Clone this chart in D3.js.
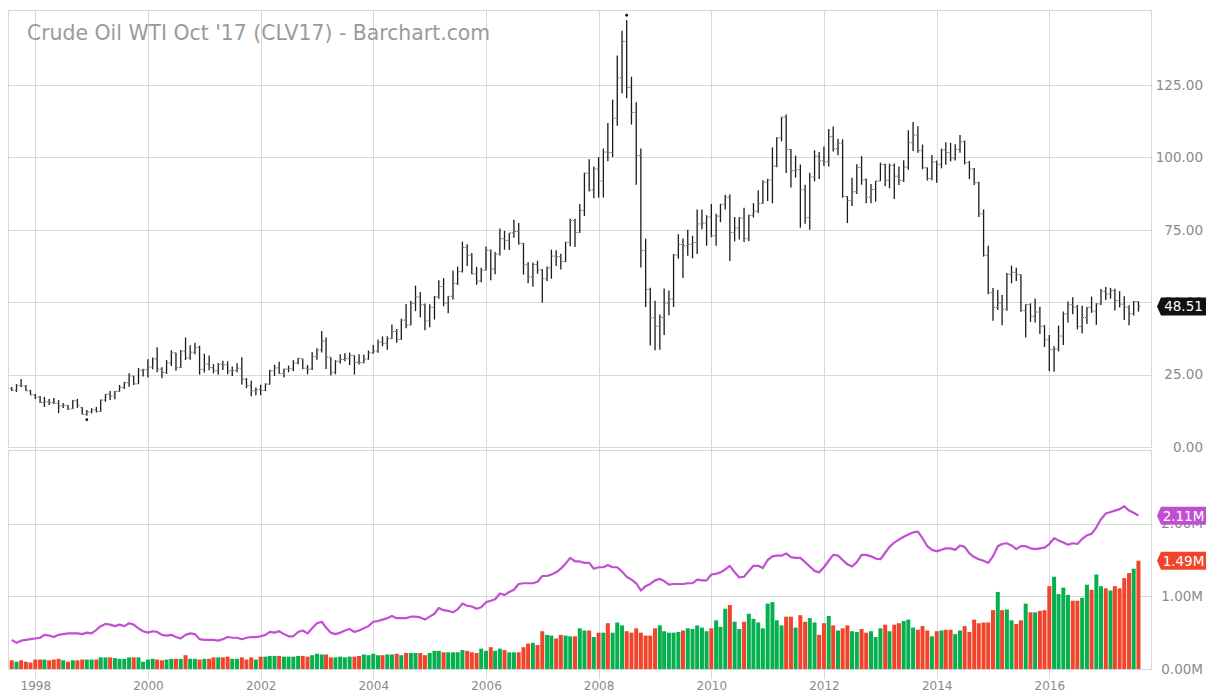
<!DOCTYPE html>
<html>
<head>
<meta charset="utf-8">
<script src="https://cdn.jsdelivr.net/npm/d3@7"></script>
<style>
  body { margin: 0; background: #fff; }
  svg { display: block; font-family: "DejaVu Sans", sans-serif; }
</style>
</head>
<body>
<svg id="chart" width="1212" height="690"></svg>
<script>
// monthly bars, Aug 1997 .. Aug 2017
const firstMonth = new Date(1997, 7, 1);
const lastMonth = new Date(2017, 7, 1);

const opens = [
  20.2, 19.6, 21.2, 21.0, 19.4,
  18.0, 17.2, 15.4, 15.6, 15.3, 15.1, 14.2, 14.4, 13.2, 16.0, 13.6, 11.3,
  12.1, 12.8, 12.3, 16.2, 18.2, 17.6, 19.2, 20.6, 22.2, 24.5, 21.8, 26.5,
  26.7, 27.6, 30.4, 26.9, 25.7, 29.0, 32.5, 27.4, 33.1, 30.8, 32.7, 34.4,
  26.8, 28.7, 27.4, 26.3, 28.5, 28.4, 26.3, 26.4, 27.2, 23.4, 21.2, 19.4,
  19.8, 19.5, 21.7, 26.3, 27.3, 25.3, 26.9, 27.0, 29.0, 30.5, 27.2, 26.9,
  31.2, 33.5, 36.6, 31.0, 25.8, 29.6, 30.2, 30.5, 31.6, 29.2, 29.1, 30.4,
  32.5, 33.1, 36.2, 35.8, 37.4, 39.9, 37.1, 43.8, 42.1, 49.6, 51.8, 49.1,
  43.5, 48.2, 51.8, 55.4, 49.7, 52.0, 56.5, 60.6, 68.9, 66.2, 59.8, 57.3,
  61.0, 67.9, 61.4, 66.6, 71.9, 71.3, 73.9, 74.4, 70.3, 62.9, 58.7, 63.0,
  61.1, 58.1, 61.8, 65.9, 65.7, 64.0, 70.7, 78.2, 74.0, 81.7, 94.5, 88.7,
  96.0, 91.8, 101.8, 101.6, 113.5, 127.4, 140.0, 124.1, 115.5, 100.6, 67.8, 54.4,
  44.6, 41.7, 44.8, 49.7, 51.1, 66.3, 69.9, 69.5, 70.0, 70.6, 77.0, 77.3,
  79.4, 72.9, 79.7, 83.8, 86.2, 74.0, 75.6, 79.0, 71.9, 80.0, 81.4, 84.1,
  91.4, 92.2, 97.0, 106.7, 113.9, 102.7, 95.4, 95.7, 88.8, 79.2, 93.2, 100.4,
  98.8, 98.5, 107.1, 103.0, 104.9, 86.5, 85.0, 88.1, 96.5, 92.2, 86.2, 88.9,
  91.8, 97.5, 92.1, 97.2, 93.5, 92.0, 96.6, 105.0, 107.7, 102.3, 96.4, 92.7,
  98.4, 97.5, 102.6, 101.6, 99.7, 102.7, 105.4, 98.2, 96.0, 91.2, 80.5, 66.2,
  53.3, 48.2, 49.8, 47.6, 59.6, 60.3, 59.5, 47.1, 49.2, 45.1, 46.6, 41.7,
  37.0, 33.6, 33.8, 38.3, 45.9, 49.1, 48.3, 41.6, 44.7, 48.2, 46.9, 49.4,
  53.7, 52.8, 54.0, 50.6, 49.3, 48.3, 46.0, 50.2
];
const highs = [
  20.7, 21.7, 23.5, 21.4, 19.7,
  18.3, 17.6, 17.3, 16.6, 16.9, 16.2, 15.2, 14.5, 16.2, 16.6, 13.8, 12.8,
  13.4, 13.8, 16.4, 18.3, 19.3, 19.3, 21.4, 22.5, 25.5, 24.6, 27.3, 27.0,
  30.3, 30.9, 34.4, 27.5, 30.0, 33.4, 32.5, 33.5, 37.8, 35.1, 36.0, 35.0,
  32.2, 31.6, 28.6, 29.0, 29.8, 29.6, 27.8, 28.9, 31.0, 23.8, 22.9, 20.5,
  21.5, 22.0, 26.7, 28.4, 29.4, 27.0, 28.1, 30.0, 30.8, 30.5, 28.3, 32.7,
  34.1, 40.0, 37.8, 31.0, 30.0, 32.0, 32.4, 32.6, 31.6, 32.0, 31.9, 33.3,
  35.2, 37.0, 38.2, 38.2, 42.3, 40.7, 44.3, 49.4, 50.5, 55.7, 53.5, 49.5,
  49.3, 52.1, 57.6, 58.3, 52.1, 60.9, 62.3, 70.9, 70.0, 67.0, 62.2, 61.9,
  69.2, 68.2, 67.3, 75.4, 74.6, 73.9, 78.4, 77.3, 70.4, 63.8, 63.7, 64.3,
  61.4, 62.3, 68.1, 67.9, 66.7, 70.8, 78.8, 78.8, 83.9, 94.7, 99.3, 96.8,
  100.1, 103.0, 111.8, 119.9, 135.1, 143.7, 147.3, 127.8, 119.0, 103.0, 71.9, 55.0,
  50.5, 45.7, 54.7, 54.0, 66.6, 73.4, 72.0, 75.0, 72.9, 82.0, 82.0, 80.0,
  83.9, 80.5, 83.9, 87.1, 87.2, 79.4, 79.4, 82.6, 80.2, 84.2, 88.6, 92.1,
  92.6, 103.4, 106.9, 113.9, 114.8, 102.9, 100.6, 97.5, 90.5, 94.7, 102.4, 101.8,
  103.7, 109.8, 110.6, 106.4, 106.2, 86.6, 92.9, 97.6, 100.4, 92.7, 90.8, 91.9,
  98.2, 97.8, 97.8, 97.9, 96.8, 99.0, 109.3, 112.2, 110.7, 104.4, 96.5, 100.8,
  98.9, 103.0, 105.2, 105.0, 104.5, 107.7, 105.8, 98.7, 96.3, 91.6, 82.0, 69.5,
  54.9, 54.2, 52.5, 60.1, 62.6, 61.9, 59.6, 49.3, 49.6, 51.3, 48.4, 42.1,
  38.7, 34.8, 41.9, 46.8, 50.2, 51.7, 49.0, 48.8, 48.3, 51.9, 49.6, 54.5,
  55.2, 54.9, 54.6, 53.8, 52.0, 48.9, 50.4, 50.2
];
const lows = [
  19.3, 19.0, 20.6, 19.3, 17.9,
  16.6, 15.2, 13.8, 14.5, 14.8, 11.7, 13.5, 12.8, 13.1, 13.5, 11.2, 10.8,
  11.6, 11.9, 12.2, 15.6, 16.2, 16.5, 19.1, 20.0, 20.8, 21.4, 21.7, 24.3,
  24.0, 26.8, 25.8, 23.7, 25.2, 28.0, 26.3, 27.3, 30.0, 30.1, 32.0, 25.0,
  25.7, 26.5, 25.4, 24.9, 26.6, 25.1, 24.5, 25.8, 21.6, 20.3, 17.5, 17.9,
  17.9, 19.3, 21.5, 24.5, 25.2, 24.0, 25.8, 26.2, 28.6, 26.8, 25.1, 26.6,
  30.1, 32.6, 26.9, 24.7, 25.1, 28.8, 29.6, 28.3, 25.0, 28.5, 28.9, 30.1,
  32.2, 32.5, 34.8, 33.6, 37.4, 36.0, 37.0, 41.0, 42.0, 46.9, 44.7, 40.3,
  41.3, 44.0, 51.2, 48.6, 46.2, 50.9, 55.9, 60.2, 62.5, 59.6, 56.0, 56.9,
  61.0, 57.6, 59.6, 66.1, 68.1, 68.0, 72.2, 69.8, 59.5, 56.5, 55.3, 59.8,
  49.9, 57.3, 58.1, 62.5, 61.3, 63.8, 69.3, 69.0, 73.9, 79.7, 88.2, 85.9,
  86.1, 86.1, 98.6, 100.1, 110.9, 122.0, 120.4, 111.3, 90.5, 62.0, 48.3, 35.0,
  33.4, 33.6, 38.7, 45.5, 48.3, 65.0, 58.3, 66.0, 65.1, 66.6, 75.2, 69.5,
  72.4, 69.5, 77.6, 82.0, 64.2, 71.0, 71.6, 70.8, 71.0, 79.2, 80.8, 84.0,
  84.9, 84.1, 96.6, 105.5, 94.6, 89.6, 93.0, 75.7, 77.1, 75.0, 91.7, 92.5,
  97.0, 96.8, 102.0, 100.7, 86.0, 77.3, 83.2, 87.3, 90.5, 84.1, 84.1, 84.7,
  91.8, 90.0, 89.3, 85.6, 90.4, 91.5, 95.7, 102.2, 101.6, 95.9, 92.0, 92.1,
  91.2, 96.2, 97.4, 98.6, 98.9, 101.6, 97.5, 92.5, 90.4, 79.4, 65.7, 52.7,
  43.6, 47.3, 42.0, 47.0, 56.5, 57.3, 46.7, 37.8, 43.2, 43.0, 39.0, 34.5,
  26.2, 26.0, 33.0, 35.2, 43.0, 45.8, 40.6, 39.2, 42.5, 46.3, 42.2, 49.0,
  50.7, 51.2, 47.1, 48.2, 43.8, 42.0, 45.4, 46.7
];
const closes = [
  19.6, 21.2, 21.1, 19.4, 18.0,
  17.2, 15.4, 15.6, 15.3, 15.2, 14.2, 14.4, 13.0, 16.0, 14.4, 11.3, 12.1,
  12.8, 12.3, 16.2, 18.2, 17.6, 19.2, 20.6, 22.2, 24.5, 21.8, 26.5, 26.7,
  27.6, 30.4, 26.9, 25.7, 29.0, 32.5, 27.4, 33.1, 30.8, 32.7, 34.4, 26.8,
  28.7, 27.4, 26.3, 28.5, 28.4, 26.3, 26.4, 27.2, 23.4, 21.2, 19.4, 19.8,
  19.5, 21.7, 26.3, 27.3, 25.3, 26.9, 27.0, 29.0, 30.5, 27.2, 26.9, 31.2,
  33.5, 36.6, 31.0, 25.8, 29.6, 30.2, 30.5, 31.6, 29.2, 29.1, 30.4, 32.5,
  33.1, 36.2, 35.8, 37.4, 39.9, 37.1, 43.8, 42.1, 49.6, 51.8, 49.1, 43.5,
  48.2, 51.8, 55.4, 49.7, 52.0, 56.5, 60.6, 68.9, 66.2, 59.8, 57.3, 61.0,
  67.9, 61.4, 66.6, 71.9, 71.3, 73.9, 74.4, 70.3, 62.9, 58.7, 63.0, 61.1,
  58.1, 61.8, 65.9, 65.7, 64.0, 70.7, 78.2, 74.0, 81.7, 94.5, 88.7, 96.0,
  91.8, 101.8, 101.6, 113.5, 127.4, 140.0, 124.1, 115.5, 100.6, 67.8, 54.4, 44.6,
  41.7, 44.8, 49.7, 51.1, 66.3, 69.9, 69.5, 70.0, 70.6, 77.0, 77.3, 79.4,
  72.9, 79.7, 83.8, 86.2, 74.0, 75.6, 79.0, 71.9, 80.0, 81.4, 84.1, 91.4,
  92.2, 97.0, 106.7, 113.9, 102.7, 95.4, 95.7, 88.8, 79.2, 93.2, 100.4, 98.8,
  98.5, 107.1, 103.0, 104.9, 86.5, 85.0, 88.1, 96.5, 92.2, 86.2, 88.9, 91.8,
  97.5, 92.1, 97.2, 93.5, 92.0, 96.6, 105.0, 107.7, 102.3, 96.4, 92.7, 98.4,
  97.5, 102.6, 101.6, 99.7, 102.7, 105.4, 98.2, 96.0, 91.2, 80.5, 66.2, 53.3,
  48.2, 49.8, 47.6, 59.6, 60.3, 59.5, 47.1, 49.2, 45.1, 46.6, 41.7, 37.0,
  33.6, 33.8, 38.3, 45.9, 49.1, 48.3, 41.6, 44.7, 48.2, 46.9, 49.4, 53.7,
  52.8, 54.0, 50.6, 49.3, 48.3, 46.0, 50.2, 48.51
];

// volume and open interest, millions of contracts
const volumes = [
  0.12, 0.10, 0.12, 0.10, 0.09,
  0.13, 0.13, 0.13, 0.12, 0.13, 0.14, 0.12, 0.10, 0.12, 0.12, 0.13, 0.13,
  0.13, 0.13, 0.16, 0.16, 0.16, 0.15, 0.14, 0.14, 0.16, 0.16, 0.16, 0.10,
  0.13, 0.14, 0.13, 0.12, 0.13, 0.14, 0.14, 0.14, 0.19, 0.14, 0.14, 0.13,
  0.14, 0.14, 0.16, 0.16, 0.16, 0.17, 0.14, 0.14, 0.16, 0.13, 0.16, 0.13,
  0.17, 0.17, 0.18, 0.18, 0.18, 0.17, 0.17, 0.17, 0.18, 0.18, 0.17, 0.19,
  0.21, 0.20, 0.20, 0.16, 0.16, 0.17, 0.16, 0.17, 0.17, 0.18, 0.20, 0.19,
  0.21, 0.19, 0.19, 0.20, 0.20, 0.21, 0.19, 0.22, 0.22, 0.22, 0.22, 0.19,
  0.22, 0.25, 0.25, 0.23, 0.23, 0.23, 0.23, 0.26, 0.25, 0.23, 0.22, 0.28,
  0.25, 0.30, 0.25, 0.28, 0.26, 0.23, 0.23, 0.23, 0.30, 0.35, 0.36, 0.33,
  0.52, 0.47, 0.46, 0.42, 0.47, 0.46, 0.45, 0.45, 0.56, 0.53, 0.53, 0.44,
  0.50, 0.50, 0.63, 0.50, 0.64, 0.60, 0.52, 0.50, 0.56, 0.50, 0.46, 0.46,
  0.56, 0.60, 0.52, 0.50, 0.50, 0.51, 0.53, 0.56, 0.55, 0.60, 0.57, 0.52,
  0.56, 0.67, 0.58, 0.83, 0.88, 0.65, 0.55, 0.65, 0.76, 0.69, 0.64, 0.56,
  0.90, 0.92, 0.67, 0.60, 0.72, 0.72, 0.57, 0.74, 0.65, 0.70, 0.64, 0.47,
  0.63, 0.73, 0.60, 0.53, 0.56, 0.60, 0.52, 0.51, 0.55, 0.50, 0.52, 0.44,
  0.56, 0.61, 0.52, 0.61, 0.63, 0.66, 0.68, 0.57, 0.54, 0.59, 0.53, 0.45,
  0.52, 0.53, 0.54, 0.54, 0.48, 0.53, 0.59, 0.51, 0.68, 0.63, 0.64, 0.64,
  0.81, 1.06, 0.81, 0.82, 0.67, 0.62, 0.67, 0.90, 0.78, 0.78, 0.80, 0.81,
  1.14, 1.27, 1.03, 1.12, 1.02, 0.94, 0.94, 0.98, 1.16, 1.09, 1.30, 1.14,
  1.11, 1.08, 1.14, 1.11, 1.25, 1.32, 1.38, 1.49
];
const openInterest = [
  0.40, 0.36, 0.39, 0.40, 0.41,
  0.42, 0.43, 0.47, 0.46, 0.44, 0.47, 0.48, 0.49, 0.49, 0.49, 0.48, 0.50,
  0.49, 0.54, 0.59, 0.62, 0.61, 0.59, 0.61, 0.59, 0.63, 0.61, 0.56, 0.52,
  0.50, 0.52, 0.51, 0.47, 0.46, 0.47, 0.44, 0.42, 0.47, 0.49, 0.48, 0.41,
  0.40, 0.40, 0.40, 0.39, 0.41, 0.44, 0.43, 0.43, 0.41, 0.43, 0.44, 0.44,
  0.45, 0.47, 0.51, 0.50, 0.52, 0.48, 0.45, 0.45, 0.51, 0.53, 0.49, 0.56,
  0.63, 0.65, 0.57, 0.50, 0.48, 0.50, 0.53, 0.55, 0.51, 0.53, 0.56, 0.59,
  0.65, 0.66, 0.68, 0.70, 0.73, 0.70, 0.70, 0.70, 0.72, 0.72, 0.71, 0.68,
  0.72, 0.76, 0.84, 0.81, 0.80, 0.78, 0.82, 0.90, 0.87, 0.86, 0.83, 0.85,
  0.92, 0.94, 0.96, 1.04, 1.02, 1.06, 1.09, 1.17, 1.18, 1.18, 1.18, 1.20,
  1.28, 1.28, 1.30, 1.33, 1.38, 1.45, 1.53, 1.48, 1.48, 1.46, 1.46, 1.38,
  1.40, 1.40, 1.43, 1.40, 1.40, 1.34, 1.27, 1.23, 1.18, 1.08, 1.14, 1.17,
  1.22, 1.24, 1.21, 1.16, 1.17, 1.17, 1.17, 1.18, 1.18, 1.23, 1.22, 1.22,
  1.30, 1.31, 1.33, 1.37, 1.42, 1.33, 1.26, 1.27, 1.35, 1.42, 1.42, 1.39,
  1.50, 1.55, 1.56, 1.56, 1.59, 1.54, 1.53, 1.53, 1.47, 1.41, 1.35, 1.33,
  1.40, 1.49, 1.57, 1.56, 1.50, 1.44, 1.41, 1.47, 1.57, 1.57, 1.55, 1.52,
  1.51, 1.60, 1.68, 1.74, 1.78, 1.82, 1.85, 1.88, 1.89, 1.80, 1.69, 1.64,
  1.62, 1.64, 1.66, 1.66, 1.64, 1.70, 1.68, 1.59, 1.54, 1.51, 1.49, 1.46,
  1.55, 1.69, 1.72, 1.73, 1.70, 1.65, 1.69, 1.69, 1.66, 1.65, 1.66, 1.67,
  1.72, 1.80, 1.77, 1.74, 1.71, 1.73, 1.72, 1.79, 1.84, 1.86, 1.95, 2.06,
  2.14, 2.16, 2.18, 2.20, 2.24, 2.18, 2.15, 2.11
];

const priceTicks = [0, 25, 50, 75, 100, 125];
const volTicks = [0, 1, 2];
const titleText = "Crude Oil WTI Oct '17 (CLV17) - Barchart.com";

const GRID = "#d9d9d9", LABEL = "#8a8a8a";
const UP = "#07b04e", DOWN = "#f0452a", OI_COLOR = "#c24fd3";

const months = d3.timeMonth.range(firstMonth, d3.timeMonth.offset(lastMonth, 1));
const bars = months.map((m, i) => ({
  date: m, open: opens[i], high: highs[i], low: lows[i], close: closes[i],
  vol: volumes[i], oi: openInterest[i],
  up: i === 0 ? closes[i] >= opens[i] : closes[i] >= closes[i - 1]
}));

const svg = d3.select("#chart");
const left = 9, right = 1152;

const x = d3.scaleTime()
  .domain([new Date(1998, 0, 1), new Date(2016, 0, 1)])
  .range([35.3, 1049.3]);
const yPrice = d3.scaleLinear().domain([0, 150.5]).range([447, 11]);
const yVol = d3.scaleLinear().domain([0, 3]).range([669, 451]);

// grid
const grid = svg.append("g").attr("stroke", GRID).attr("stroke-width", 1);
const years = d3.timeYear.every(2).range(new Date(1998, 0, 1), new Date(2017, 0, 1));
grid.selectAll(".vg").data(years).join("line")
  .attr("x1", d => Math.round(x(d)) + 0.5).attr("x2", d => Math.round(x(d)) + 0.5)
  .attr("y1", 11).attr("y2", 679);
grid.selectAll(".pg").data(priceTicks.slice(1)).join("line")
  .attr("x1", left).attr("x2", right)
  .attr("y1", d => Math.round(yPrice(d)) + 0.5).attr("y2", d => Math.round(yPrice(d)) + 0.5);
grid.selectAll(".vgl").data(volTicks.slice(1)).join("line")
  .attr("x1", left).attr("x2", right)
  .attr("y1", d => Math.round(yVol(d)) + 0.5).attr("y2", d => Math.round(yVol(d)) + 0.5);

// panel frames
const frame = svg.append("g").attr("stroke", GRID).attr("fill", "none");
frame.append("rect").attr("x", left - 0.5).attr("y", 10.5).attr("width", right - left).attr("height", 437);
frame.append("rect").attr("x", left - 0.5).attr("y", 450.5).attr("width", right - left).attr("height", 219);

// title
svg.append("text")
  .attr("x", 27).attr("y", 40)
  .attr("font-size", 20.4).attr("fill", "#9a9a9a")
  .text(titleText);

// volume bars
svg.append("g").selectAll("rect").data(bars).join("rect")
  .attr("x", d => x(d.date) - 2)
  .attr("width", 4)
  .attr("y", d => yVol(d.vol))
  .attr("height", d => yVol(0) - yVol(d.vol))
  .attr("fill", d => d.up ? UP : DOWN);

// open interest line
svg.append("path")
  .datum(bars)
  .attr("fill", "none")
  .attr("stroke", OI_COLOR)
  .attr("stroke-width", 2.2)
  .attr("stroke-linejoin", "round")
  .attr("d", d3.line().x(d => x(d.date)).y(d => yVol(d.oi)));

// OHLC bars
const ohlc = svg.append("g").attr("stroke", "#1a1a1a").attr("stroke-width", 1.3);
ohlc.selectAll(".hl").data(bars).join("line")
  .attr("x1", d => x(d.date)).attr("x2", d => x(d.date))
  .attr("y1", d => yPrice(d.high)).attr("y2", d => yPrice(d.low));
ohlc.selectAll(".o").data(bars).join("line")
  .attr("stroke-width", 1).attr("stroke", "#777")
  .attr("x1", d => x(d.date) - 2).attr("x2", d => x(d.date))
  .attr("y1", d => yPrice(d.open)).attr("y2", d => yPrice(d.open));
ohlc.selectAll(".c").data(bars).join("line")
  .attr("stroke-width", 1).attr("stroke", "#777")
  .attr("x1", d => x(d.date)).attr("x2", d => x(d.date) + 2)
  .attr("y1", d => yPrice(d.close)).attr("y2", d => yPrice(d.close));

// high / low markers
const highBar = bars.reduce((a, b) => b.high > a.high ? b : a);
const lowBar = bars.reduce((a, b) => b.low < a.low ? b : a);
svg.append("circle").attr("cx", x(highBar.date)).attr("cy", yPrice(highBar.high) - 5).attr("r", 1.4).attr("fill", "#111");
svg.append("circle").attr("cx", x(lowBar.date)).attr("cy", yPrice(lowBar.low) + 4).attr("r", 1.4).attr("fill", "#111");

// axes
const styleAxis = g => {
  g.select(".domain").remove();
  g.selectAll("text").attr("fill", LABEL).attr("font-family", "DejaVu Sans");
};
svg.append("g")
  .attr("transform", "translate(1203,0)")
  .call(d3.axisLeft(yPrice).tickValues(priceTicks).tickSize(0).tickPadding(0).tickFormat(d3.format(".2f")))
  .call(styleAxis)
  .selectAll("text").attr("font-size", 13.5);
svg.append("g")
  .attr("transform", "translate(1203,0)")
  .call(d3.axisLeft(yVol).tickValues(volTicks).tickSize(0).tickPadding(0).tickFormat(d => d3.format(".2f")(d) + "M"))
  .call(styleAxis)
  .selectAll("text").attr("font-size", 13.5);
svg.append("g")
  .attr("transform", "translate(0,681)")
  .call(d3.axisBottom(x).ticks(d3.timeYear.every(2)).tickSize(0).tickPadding(0).tickFormat(d3.timeFormat("%Y")))
  .call(styleAxis)
  .selectAll("text").attr("font-size", 12);

// last-value tags
const lastBar = bars[bars.length - 1];
function tag(yv, label, fill) {
  const g = svg.append("g").attr("transform", `translate(0,${yv})`);
  g.append("path")
    .attr("d", "M1157,0 L1161,-9 L1206,-9 L1206,9 L1161,9 Z")
    .attr("fill", fill);
  g.append("text")
    .attr("x", 1183.5).attr("y", 0).attr("dy", "0.36em")
    .attr("text-anchor", "middle").attr("font-size", 13.5).attr("fill", "#fff")
    .text(label);
}
tag(yPrice(lastBar.close), d3.format(".2f")(lastBar.close), "#111");
tag(yVol(lastBar.oi), d3.format(".2f")(lastBar.oi) + "M", OI_COLOR);
tag(yVol(lastBar.vol), d3.format(".2f")(lastBar.vol) + "M", DOWN);
</script>
</body>
</html>
